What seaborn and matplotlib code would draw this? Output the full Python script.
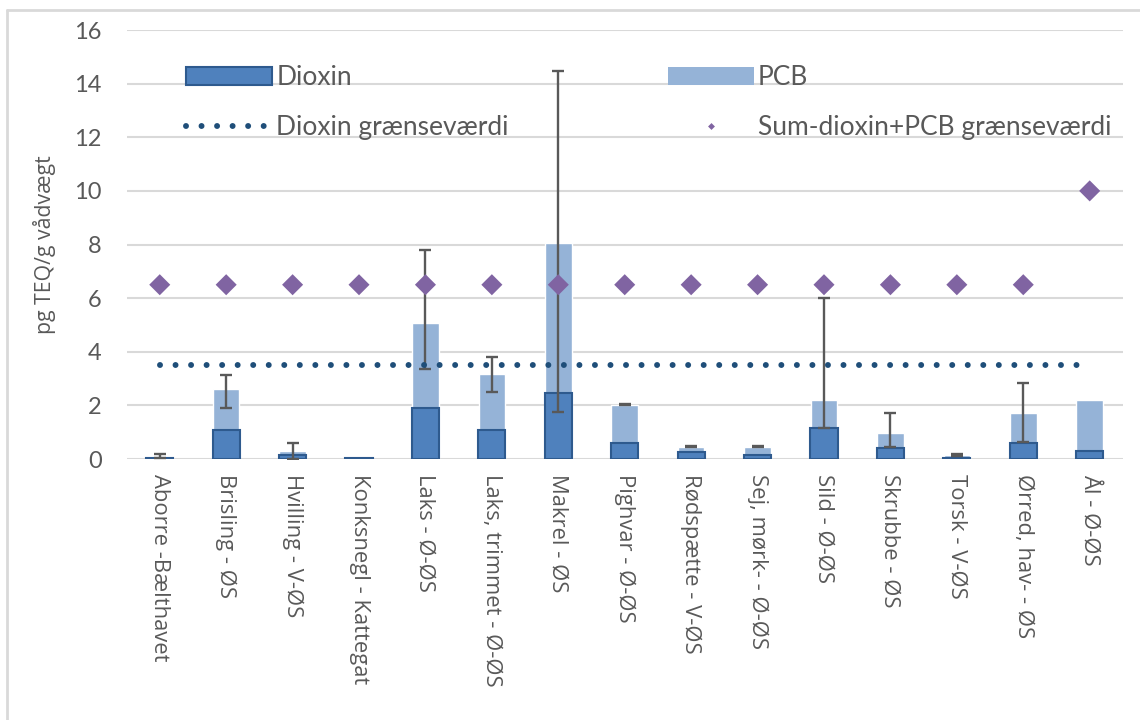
import numpy as np
import pandas as pd
import matplotlib.pyplot as plt
from matplotlib.lines import Line2D
from matplotlib.patches import Patch
import seaborn as sns

# data (pg TEQ/g vådvægt)
fish = ["Aborre -Bælthavet", "Brisling - ØS", "Hvilling - V-ØS", "Konksnegl - Kattegat",
        "Laks - Ø-ØS", "Laks, trimmet - Ø-ØS", "Makrel - ØS", "Pighvar - Ø-ØS",
        "Rødspætte - V-ØS", "Sej, mørk- - Ø-ØS", "Sild - Ø-ØS", "Skrubbe - ØS",
        "Torsk - V-ØS", "Ørred, hav- - ØS", "Ål - Ø-ØS"]
dioxin = [0.03, 1.10, 0.16, 0.05, 1.91, 1.10, 2.45, 0.59, 0.25, 0.15, 1.17, 0.42, 0.05, 0.59, 0.29]
pcb = [0.07, 1.50, 0.13, 0.03, 3.18, 2.07, 5.62, 1.44, 0.21, 0.31, 1.02, 0.56, 0.10, 1.14, 1.90]
err_low = [0.02, 1.91, 0.0, np.nan, 3.36, 2.49, 1.75, 2.01, 0.44, 0.44, 1.17, 0.46, 0.10, 0.63, np.nan]
err_high = [0.18, 3.12, 0.58, np.nan, 7.80, 3.82, 14.49, 2.05, 0.48, 0.48, 6.02, 1.73, 0.20, 2.84, np.nan]
dioxin_limit = [3.5, 3.5, 3.5, 3.5, 3.5, 3.5, 3.5, 3.5, 3.5, 3.5, 3.5, 3.5, 3.5, 3.5, 3.5]
sum_limit = [6.5, 6.5, 6.5, 6.5, 6.5, 6.5, 6.5, 6.5, 6.5, 6.5, 6.5, 6.5, 6.5, 6.5, 10.0]

df = pd.DataFrame({"fish": fish, "dioxin": dioxin, "pcb": pcb,
                   "lo": err_low, "hi": err_high,
                   "dlim": dioxin_limit, "slim": sum_limit})
df["total"] = df["dioxin"] + df["pcb"]

DARK = "#4F81BD"
DARK_EDGE = "#2E5A8E"
LIGHT = "#95B3D7"
NAVY = "#1F4E79"
PURPLE = "#8064A2"
TXT = "#595959"
GRID = "#D9D9D9"
OPEN = ["Open Sans", "DejaVu Sans"]

sns.set_theme(style="white")
plt.rcParams["font.family"] = ["Lato", "DejaVu Sans"]

fig = plt.figure(figsize=(11.4, 7.2), dpi=100)
ax = fig.add_axes([0.111, 0.3625, 0.874, 0.5958])

# stacked bars: total (light) behind, dioxin (dark) in front
sns.barplot(data=df, x="fish", y="total", color=LIGHT, saturation=1, width=0.40,
            errorbar=None, ax=ax, zorder=2)
sns.barplot(data=df, x="fish", y="dioxin", color=DARK, saturation=1, width=0.41,
            errorbar=None, ax=ax, zorder=3, edgecolor=DARK_EDGE, linewidth=1.5)

# error bars at the top of each stack
eb = df.dropna(subset=["lo", "hi"])
xpos = [fish.index(f) for f in eb["fish"]]
ax.errorbar(xpos, eb["total"], yerr=[eb["total"] - eb["lo"], eb["hi"] - eb["total"]],
            fmt="none", ecolor=TXT, elinewidth=1.7, capsize=4.5, capthick=1.7, zorder=4)

# limits
xs = np.arange(len(fish))
ax.plot(xs, df["dlim"], color=NAVY, linewidth=4.3, linestyle=(0, (0.001, 2.6)),
        dash_capstyle="round", zorder=5)
sns.scatterplot(x=xs, y=df["slim"], marker="D", s=115, color=PURPLE, edgecolor="none",
                ax=ax, zorder=6)

ax.set_ylim(0, 16)
ax.set_xlim(-0.5, len(fish) - 0.5)
ax.set_yticks(range(0, 17, 2))
ax.yaxis.grid(True, color=GRID, linewidth=1.5)
ax.set_axisbelow(True)
for s in ax.spines.values():
    s.set_visible(False)
ax.tick_params(axis="y", length=0, pad=18, labelsize=17, labelcolor=TXT)
ax.tick_params(axis="x", length=0, pad=11, labelcolor=TXT)
ax.set_xticks(xs)
ax.set_xticklabels(fish, rotation=270, va="top", ha="center")
for t in ax.get_xticklabels():
    t.set_fontfamily(OPEN)
    t.set_fontsize(15.8)
ax.set_xlabel("")
ax.set_ylabel("pg TEQ/g vådvægt", color=TXT, labelpad=13)
ax.yaxis.label.set_fontfamily(OPEN)
ax.yaxis.label.set_fontsize(15.3)

handles = [
    Patch(facecolor=DARK, edgecolor=DARK_EDGE, linewidth=1.5),
    Line2D([0], [0], color=NAVY, linewidth=4.3, linestyle=(0, (0.001, 2.6)), dash_capstyle="round"),
    Patch(facecolor=LIGHT, edgecolor="none"),
    Line2D([0], [0], color="none", marker="D", markersize=3.5, markerfacecolor=PURPLE,
           markeredgecolor="none"),
]
labels = ["Dioxin", "Dioxin grænseværdi", "PCB", "Sum-dioxin+PCB grænseværdi"]
leg = fig.legend(handles, labels, ncol=2, loc="upper left", bbox_to_anchor=(0.152, 0.928),
                 frameon=False, fontsize=19, handlelength=3.25, handleheight=0.7,
                 handletextpad=0.15, columnspacing=6.05, labelspacing=0.95, borderpad=0)
for t in leg.get_texts():
    t.set_color(TXT)

# chart area border (left and top visible)
fig.add_artist(Line2D([0.0065, 0.0065], [0.0, 0.986], color=GRID, linewidth=2))
fig.add_artist(Line2D([0.0065, 1.0], [0.986, 0.986], color=GRID, linewidth=2))

fig.savefig("out.png", dpi=100, facecolor="white")
